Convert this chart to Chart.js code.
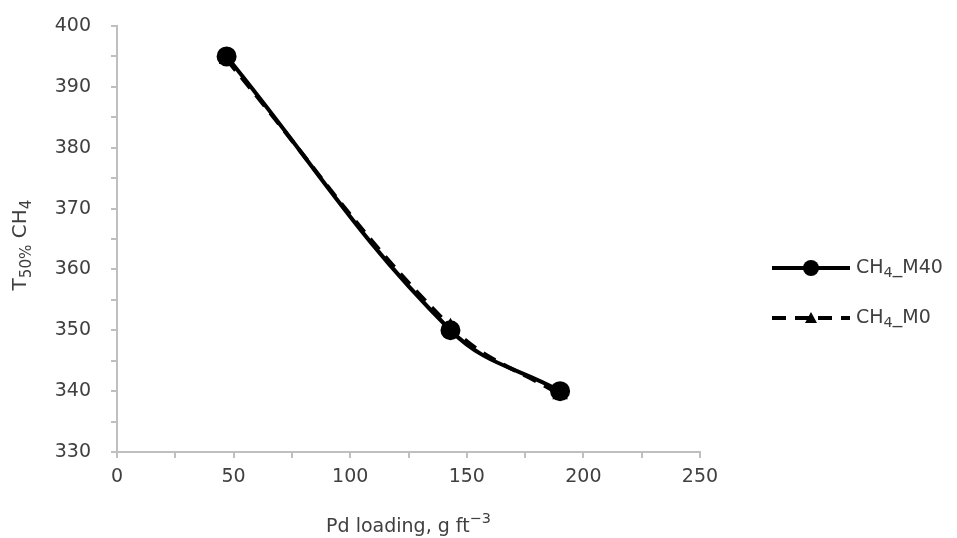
<!DOCTYPE html>
<html>
<head>
<meta charset="utf-8">
<script src="https://cdn.jsdelivr.net/npm/chart.js@4/dist/chart.umd.min.js"></script>
<style>
  html, body { margin: 0; padding: 0; background: #fff; }
  #wrap { width: 957px; height: 538px; }
</style>
</head>
<body>
<div id="wrap"><canvas id="chart" width="957" height="538"></canvas></div>
<script>
// data
const pdLoading = [47, 143, 190]
const m40Values = [395, 350, 340]
const m0Values = [394.5, 350.6, 339.4]
const xTicks = [0, 50, 100, 150, 200, 250]
const yTicks = [330, 340, 350, 360, 370, 380, 390, 400]

const FONT = '"DejaVu Sans", Verdana, sans-serif'
const FS = 19
const SUB = 0.76
const TEXT = '#404040'
const AXIS = '#bfbfbf'

const toPoints = (xs, ys) => xs.map((x, i) => ({ x, y: ys[i] }))

// draws text runs, some of them as subscript or superscript
function drawRich(ctx, parts, x, y, size) {
  let cx = x
  parts.forEach(p => {
    const s = p.sub || p.sup ? size * SUB : size
    ctx.font = `${s}px ${FONT}`
    const dy = p.sub ? size * 0.3 : p.sup ? -size * 0.4 : 0
    ctx.fillText(p.t, cx, y + dy)
    cx += ctx.measureText(p.t).width
  })
  return cx - x
}

function richWidth(ctx, parts, size) {
  let w = 0
  parts.forEach(p => {
    const s = p.sub || p.sup ? size * SUB : size
    ctx.font = `${s}px ${FONT}`
    w += ctx.measureText(p.t).width
  })
  return w
}

const labelsPlugin = {
  id: 'labels',
  afterDraw(chart) {
    const ctx = chart.ctx
    const area = chart.chartArea
    const yScale = chart.scales.y
    ctx.save()
    ctx.fillStyle = TEXT
    ctx.textBaseline = 'middle'

    // y tick labels, right aligned like the original
    ctx.textAlign = 'right'
    ctx.font = `${FS}px ${FONT}`
    yTicks.forEach(v => ctx.fillText(String(v), 91, yScale.getPixelForValue(v)))

    ctx.textAlign = 'left'
    // y axis title, rotated
    const yTitle = [{ t: 'T' }, { t: '50%', sub: true }, { t: ' CH' }, { t: '4', sub: true }]
    const yw = richWidth(ctx, yTitle, 20)
    ctx.save()
    ctx.translate(21, 245)
    ctx.rotate(-Math.PI / 2)
    drawRich(ctx, yTitle, -yw / 2, 0, 20)
    ctx.restore()

    // x axis title
    const xTitle = [{ t: 'Pd loading, g ft' }, { t: '\u22123', sup: true }]
    const xw = richWidth(ctx, xTitle, FS)
    drawRich(ctx, xTitle, (area.left + area.right) / 2 - xw / 2, 527, FS)

    // legend
    const items = [
      { y: 268, dash: [], marker: 'circle', name: [{ t: 'CH' }, { t: '4', sub: true }, { t: '_M40' }] },
      { y: 318, dash: [14, 9], marker: 'triangle', name: [{ t: 'CH' }, { t: '4', sub: true }, { t: '_M0' }] }
    ]
    items.forEach(it => {
      ctx.strokeStyle = '#000'
      ctx.lineWidth = 4
      ctx.setLineDash(it.dash)
      ctx.beginPath()
      ctx.moveTo(772, it.y)
      ctx.lineTo(850, it.y)
      ctx.stroke()
      ctx.setLineDash([])
      ctx.fillStyle = '#000'
      ctx.beginPath()
      if (it.marker === 'circle') {
        ctx.arc(811, it.y, 8, 0, Math.PI * 2)
      } else {
        ctx.moveTo(811, it.y - 6)
        ctx.lineTo(817, it.y + 5)
        ctx.lineTo(805, it.y + 5)
        ctx.closePath()
      }
      ctx.fill()
      ctx.fillStyle = TEXT
      drawRich(ctx, it.name, 856, it.y, FS)
    })
    ctx.restore()
  }
}

new Chart(document.getElementById('chart').getContext('2d'), {
  type: 'line',
  data: {
    datasets: [
      {
        label: 'CH4_M0',
        data: toPoints(pdLoading, m0Values),
        borderColor: '#000',
        backgroundColor: '#000',
        borderWidth: 4,
        borderDash: [14, 9],
        pointStyle: 'triangle',
        pointRadius: 5,
        tension: 0.4
      },
      {
        label: 'CH4_M40',
        data: toPoints(pdLoading, m40Values),
        borderColor: '#000',
        backgroundColor: '#000',
        borderWidth: 4,
        pointStyle: 'circle',
        pointRadius: 8,
        tension: 0.4
      }
    ]
  },
  options: {
    responsive: false,
    animation: false,
    layout: { padding: { top: 26, right: 257, bottom: 0, left: 0 } },
    plugins: {
      legend: { display: false },
      tooltip: { enabled: false }
    },
    scales: {
      x: {
        type: 'linear',
        min: xTicks[0],
        max: xTicks[xTicks.length - 1],
        afterFit: s => {
          s.height = 86
          s.paddingLeft = 0
          s.paddingRight = 0
        },
        afterBuildTicks: s => {
          const t = []
          for (let v = xTicks[0]; v <= xTicks[xTicks.length - 1]; v += 25) t.push({ value: v })
          s.ticks = t
        },
        border: { color: AXIS, width: 2 },
        grid: { drawOnChartArea: false, drawTicks: true, tickLength: 6, color: AXIS, lineWidth: 2 },
        ticks: {
          color: TEXT,
          font: { family: FONT, size: FS },
          padding: 8,
          maxRotation: 0,
          autoSkip: false,
          callback: v => xTicks.includes(v) ? String(v) : ''
        }
      },
      y: {
        type: 'linear',
        min: yTicks[0],
        max: yTicks[yTicks.length - 1],
        afterFit: s => {
          s.width = 117
          s.paddingTop = 0
          s.paddingBottom = 0
        },
        afterBuildTicks: s => {
          const t = []
          for (let v = yTicks[0]; v <= yTicks[yTicks.length - 1]; v += 5) t.push({ value: v })
          s.ticks = t
        },
        border: { color: AXIS, width: 2 },
        grid: { drawOnChartArea: false, drawTicks: true, tickLength: 6, color: AXIS, lineWidth: 2 },
        ticks: {
          font: { family: FONT, size: FS },
          autoSkip: false,
          callback: () => ''
        }
      }
    }
  },
  plugins: [labelsPlugin]
})
</script>
</body>
</html>
